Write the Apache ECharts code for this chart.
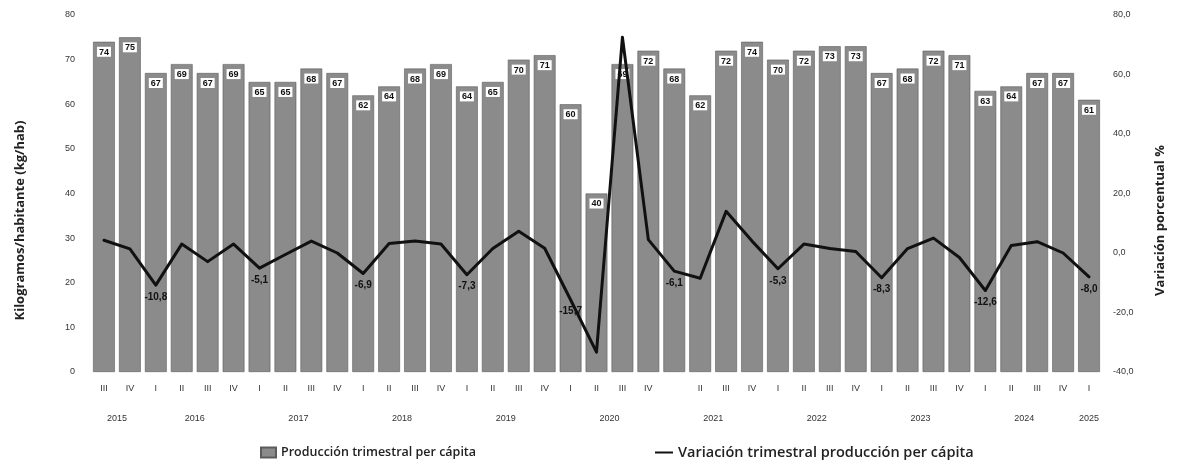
<!DOCTYPE html>
<html>
<head>
<meta charset="utf-8">
<script src="https://cdn.jsdelivr.net/npm/echarts@6/dist/echarts.min.js"></script>
<style>
  html, body { margin: 0; padding: 0; background: #ffffff; }
  #chart { width: 1177px; height: 467px; }
</style>
</head>
<body>
<div id="chart"></div>
<script>
// Quarter of each bar (the 2021 I tick is left unlabelled on the axis)
const quarters = ['III','IV',
  'I','II','III','IV', 'I','II','III','IV', 'I','II','III','IV', 'I','II','III','IV',
  'I','II','III','IV', '','II','III','IV', 'I','II','III','IV', 'I','II','III','IV',
  'I','II','III','IV', 'I'];
// Year of each bar
const years = ['2015','2015',
  '2016','2016','2016','2016', '2017','2017','2017','2017', '2018','2018','2018','2018',
  '2019','2019','2019','2019', '2020','2020','2020','2020', '2021','2021','2021','2021',
  '2022','2022','2022','2022', '2023','2023','2023','2023', '2024','2024','2024','2024',
  '2025'];
// Quarterly production per capita (kg/hab)
const production = [74,75, 67,69,67,69, 65,65,68,67, 62,64,68,69, 64,65,70,71,
  60,40,69,72, 68,62,72,74, 70,72,73,73, 67,68,72,71, 63,64,67,67, 61];
// Quarter-on-quarter change of production per capita (%)
const variation = [4.3,1.4, -10.8,3.0,-2.9,3.0, -5.1,-0.5,4.0,0.0, -6.9,3.2,4.0,3.0,
  -7.3,1.5,7.3,1.6, -15.7,-33.3,72.5,4.5, -6.1,-8.5,14.0,4.0, -5.3,3.0,1.5,0.5,
  -8.3,1.5,5.0,-1.5, -12.6,2.5,3.8,0.0, -8.0];
// Axis ticks
const leftTicks = { min: 0, max: 80, interval: 10 };
const rightTicks = { min: -40, max: 80, interval: 20 };

const seriesNames = ['Producción trimestral per cápita', 'Variación trimestral producción per cápita'];

const GRID = { left: 91, right: 75, top: 15, bottom: 95 };
const CHART_W = 1177;
const catW = (CHART_W - GRID.left - GRID.right) / years.length;

// Year label sits on the middle category of each year's group;
// for an even number of quarters it is pushed half a category to the right.
const yearLabelAt = {};
(function () {
  let s = 0;
  while (s < years.length) {
    let e = s;
    while (e + 1 < years.length && years[e + 1] === years[s]) e++;
    const n = e - s + 1;
    yearLabelAt[s + Math.floor((n - 1) / 2)] = { text: years[s], even: n % 2 === 0 };
    s = e + 1;
  }
})();

const fmtComma = v => v.toFixed(1).replace('.', ',');
const isFirstOfYear = i => i > 0 && years[i] !== years[i - 1];

const tickFont = { fontFamily: 'Liberation Sans', fontSize: 9, color: '#333' };
const legendFont = { fontFamily: 'Open Sans', fontWeight: 600, color: '#222' };

const chart = echarts.init(document.getElementById('chart'), null, { renderer: 'canvas' });
chart.setOption({
  animation: false,
  backgroundColor: '#ffffff',
  grid: { left: GRID.left, right: GRID.right, top: GRID.top, bottom: GRID.bottom },
  legend: [
    {
      data: [{ name: seriesNames[0], icon: 'rect' }],
      left: 255, top: 441, itemWidth: 15, itemHeight: 10, itemGap: 3,
      textStyle: Object.assign({ fontSize: 12.5 }, legendFont)
    },
    {
      data: [{ name: seriesNames[1], icon: 'rect', itemStyle: { color: '#111' } }],
      left: 650, top: 440, itemWidth: 18, itemHeight: 2, itemGap: 1,
      textStyle: Object.assign({ fontSize: 14.5 }, legendFont)
    }
  ],
  xAxis: [
    {
      type: 'category', data: quarters, gridIndex: 0,
      axisLine: { show: false }, axisTick: { show: false },
      axisLabel: Object.assign({ interval: 0, margin: 12 }, tickFont)
    },
    {
      type: 'category', data: years, gridIndex: 0, position: 'bottom', offset: 30,
      axisLine: { show: false }, axisTick: { show: false },
      axisLabel: {
        interval: 0, margin: 12,
        formatter: (v, i) => {
          const y = yearLabelAt[i];
          if (!y) return '';
          return y.even ? '{e|' + y.text + '}' : '{o|' + y.text + '}';
        },
        rich: {
          e: Object.assign({ padding: [0, 0, 0, catW] }, tickFont),
          o: Object.assign({}, tickFont)
        }
      }
    }
  ],
  yAxis: [
    {
      type: 'value', min: leftTicks.min, max: leftTicks.max, interval: leftTicks.interval,
      splitLine: { show: false }, axisLine: { show: false }, axisTick: { show: false },
      axisLabel: Object.assign({ margin: 16 }, tickFont),
      name: 'Kilogramos/habitante (kg/hab)', nameLocation: 'middle', nameRotate: 90, nameGap: 64,
      nameTextStyle: { fontFamily: 'Open Sans', fontSize: 13, fontWeight: 700, color: '#222', padding: [0, 54, 0, 0] }
    },
    {
      type: 'value', min: rightTicks.min, max: rightTicks.max, interval: rightTicks.interval,
      position: 'right',
      splitLine: { show: false }, axisLine: { show: false }, axisTick: { show: false },
      axisLabel: Object.assign({ margin: 11, formatter: v => fmtComma(v) }, tickFont),
      name: 'Variación porcentual %', nameLocation: 'middle', nameRotate: 90, nameGap: 52,
      nameTextStyle: { fontFamily: 'Open Sans', fontSize: 13, fontWeight: 700, color: '#222', padding: [0, 54, 0, 0] }
    }
  ],
  series: [
    {
      name: seriesNames[0], type: 'bar', xAxisIndex: 0, yAxisIndex: 0,
      data: production, barCategoryGap: '16%',
      itemStyle: { color: '#8b8b8b', borderColor: '#5c5c5c', borderWidth: 0.6 },
      label: {
        show: true, position: 'insideTop', distance: 5,
        fontFamily: 'Liberation Sans', fontSize: 9, fontWeight: 'bold', color: '#111',
        backgroundColor: '#ffffff', padding: [1, 2, 0, 2]
      },
      z: 2
    },
    {
      name: seriesNames[1], type: 'line', xAxisIndex: 0, yAxisIndex: 1,
      data: variation, symbol: 'circle', symbolSize: 2, showSymbol: true,
      lineStyle: { color: '#111', width: 3, join: 'round', cap: 'round' },
      itemStyle: { color: '#111' },
      label: {
        show: true, position: 'bottom', distance: 6,
        fontFamily: 'Liberation Sans', fontSize: 10, fontWeight: 'bold', color: '#111',
        formatter: p => isFirstOfYear(p.dataIndex) ? fmtComma(p.value) : ''
      },
      z: 5
    }
  ]
});
</script>
</body>
</html>
